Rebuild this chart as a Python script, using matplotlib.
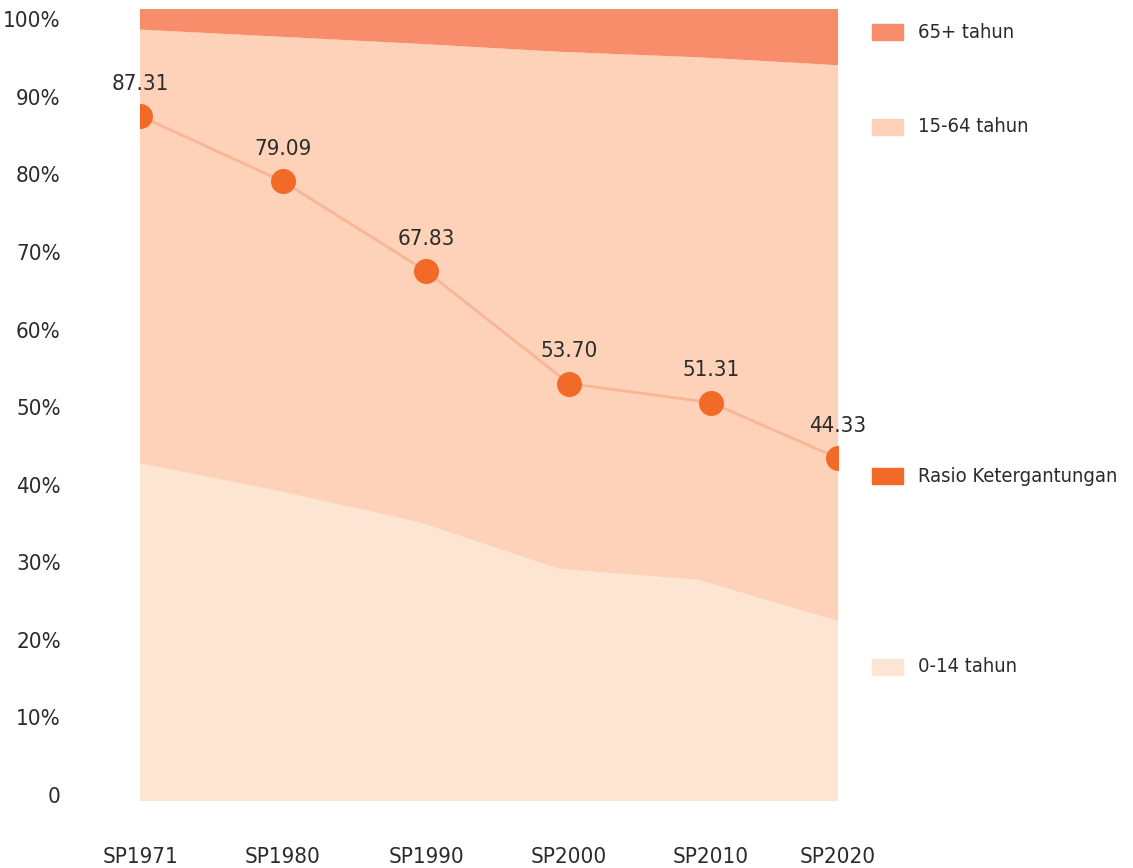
import numpy as np
import matplotlib
matplotlib.use("Agg")
import matplotlib.pyplot as plt
from matplotlib.patches import Rectangle

# données
sensus = ["SP1971", "SP1980", "SP1990", "SP2000", "SP2010", "SP2020"]
umur_0_14 = [42.6, 39.1, 35.2, 29.3, 27.9, 22.7]
umur_65 = [2.6, 3.5, 4.4, 5.4, 6.1, 7.1]
umur_15_64 = [100 - a - b for a, b in zip(umur_0_14, umur_65)]
rasio = [87.31, 79.09, 67.83, 53.70, 51.31, 44.33]
label_y = ["0", "10%", "20%", "30%", "40%", "50%", "60%", "70%", "80%", "90%", "100%"]

# mise en page
pos_aire = np.arange(len(sensus))
pos_garis = [0, 1.024, 2.049, 3.073, 4.09, 5.0]
tick_y = np.linspace(0.76, 98.7, 11)

c_65 = "#F78D6A"
c_15 = "#FDD2B8"
c_0 = "#FDE5D4"
c_rasio = "#F26A27"
c_garis = "#F9B696"
c_teks = "#2B2B2B"

plt.rcParams['font.family'] = ['DejaVu Sans Condensed', 'DejaVu Sans']
plt.rcParams['font.stretch'] = 'condensed'
fs = 16

W, H = 1133, 868
fig = plt.figure(figsize=(W / 100, H / 100), dpi=100)
ax = fig.add_axes([140 / W, (H - 801) / H, (838 - 140) / W, (801 - 9) / H])

ax.stackplot(pos_aire, umur_0_14, umur_15_64, umur_65,
             colors=[c_0, c_15, c_65], linewidth=0)
ax.set_xlim(0, 5)
ax.set_ylim(0, 100)
for s in ax.spines.values():
    s.set_visible(False)
ax.set_yticks(tick_y)
ax.set_yticklabels(label_y, fontsize=fs, color=c_teks)
ax.tick_params(axis='y', length=0, pad=57)
ax.set_xticks(pos_garis)
ax.set_xticklabels(sensus, fontsize=fs, color=c_teks)
ax.tick_params(axis='x', length=0, pad=33)

# garis rasio ketergantungan (axe secondaire)
ax2 = ax.twinx()
ax2.set_ylim(1.26, 100.75)
ax2.axis('off')
ax2.plot(pos_garis, rasio, color=c_garis, linewidth=2, zorder=2)
ax2.plot(pos_garis, rasio, 'o', color=c_rasio, markersize=17, zorder=3)
for x, v in zip(pos_garis, rasio):
    ax2.annotate(f"{v:.2f}", (x, v), textcoords="offset points", xytext=(0, 16),
                 ha='center', va='bottom', fontsize=fs, color=c_teks)

# légende
entrees = [("65+ tahun", c_65, 32), ("15-64 tahun", c_15, 127),
           ("Rasio Ketergantungan", c_rasio, 476), ("0-14 tahun", c_0, 667)]
for nom, col, y in entrees:
    fig.patches.append(Rectangle((872 / W, (H - y - 8) / H), 31 / W, 16 / H,
                                 transform=fig.transFigure, color=col))
    fig.text(918 / W, (H - y) / H, nom, fontsize=14.5, color=c_teks, va='center', ha='left')

fig.savefig("out.png", dpi=100)
